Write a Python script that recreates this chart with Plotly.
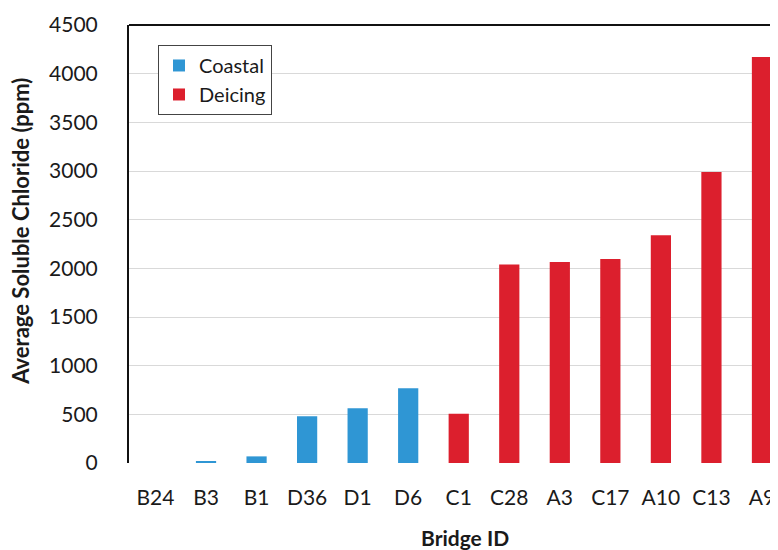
import plotly.graph_objects as go

categories = ["B24", "B3", "B1", "D36", "D1", "D6", "C1", "C28", "A3", "C17", "A10", "C13", "A9"]
coastal_ids = ["B24", "B3", "B1", "D36", "D1", "D6"]
coastal_vals = [0, 17, 68, 480, 562, 768]
deicing_ids = ["C1", "C28", "A3", "C17", "A10", "C13", "A9"]
deicing_vals = [505, 2040, 2065, 2095, 2340, 2990, 4170]
y_ticks = [0, 500, 1000, 1500, 2000, 2500, 3000, 3500, 4000, 4500]

FONT = "Lato, Open Sans, sans-serif"
BLUE = "#2F96D4"
RED = "#DC1F2D"
TXT = "#1a1a1a"

# page body adds an 8px offset; figure sized so the visible window matches
OFF = 8
W, H = 778 - OFF, 550 - OFF
L, T = 129 - OFF, 25 - OFF
B = H - (463.5 - OFF)
PW, PH = W - L, H - T - B

fig = go.Figure()
fig.add_trace(go.Bar(x=coastal_ids, y=coastal_vals, name="Coastal",
                     marker=dict(color=BLUE, line=dict(width=0)), width=0.4))
fig.add_trace(go.Bar(x=deicing_ids, y=deicing_vals, name="Deicing",
                     marker=dict(color=RED, line=dict(width=0)), width=0.4))

fig.update_layout(
    width=W, height=H,
    margin=dict(l=L, r=0, t=T, b=B, autoexpand=False),
    paper_bgcolor="white", plot_bgcolor="white",
    barmode="overlay",
    font=dict(family=FONT, size=21, color=TXT),
    showlegend=True,
    legend=dict(x=(158 - 129) / PW, y=1 - (45 - 25) / PH, xanchor="left", yanchor="top",
                bgcolor="white", bordercolor="#444444", borderwidth=1,
                font=dict(size=20, color=TXT),
                tracegroupgap=0, itemwidth=30),
    xaxis=dict(categoryorder="array", categoryarray=categories, automargin=False,
               range=[-0.524, 12.317], showline=False, showgrid=False,
               zeroline=False, ticks="", ticklabelstandoff=20,
               tickfont=dict(size=21, family=FONT, color=TXT)),
    yaxis=dict(range=[0, 4500], tickvals=y_ticks, showgrid=True, automargin=False,
               gridcolor="#D9D9D9", gridwidth=1, zeroline=False,
               showline=True, linecolor="#111111", linewidth=2,
               ticks="", ticklabelstandoff=25,
               tickfont=dict(size=21, family=FONT, color=TXT)),
    shapes=[dict(type="line", xref="paper", yref="paper", x0=0, x1=1, y0=1, y1=1,
                 line=dict(color="#111111", width=2))],
    annotations=[
        dict(text="<b>Bridge ID</b>", xref="paper", yref="paper", x=(465 - 129) / PW,
             y=-(538 - 463.5) / PH,
             xanchor="center", yanchor="middle", showarrow=False,
             font=dict(size=21, family=FONT, color=TXT)),
        dict(text="<b>Average Soluble Chloride (ppm)</b>", xref="paper", yref="paper",
             x=-(129 - 21) / PW, y=(463.5 - 232) / PH, textangle=-90,
             xanchor="center", yanchor="middle",
             showarrow=False, font=dict(size=22, family=FONT, color=TXT)),
    ],
)

fig.write_html("out.html")
